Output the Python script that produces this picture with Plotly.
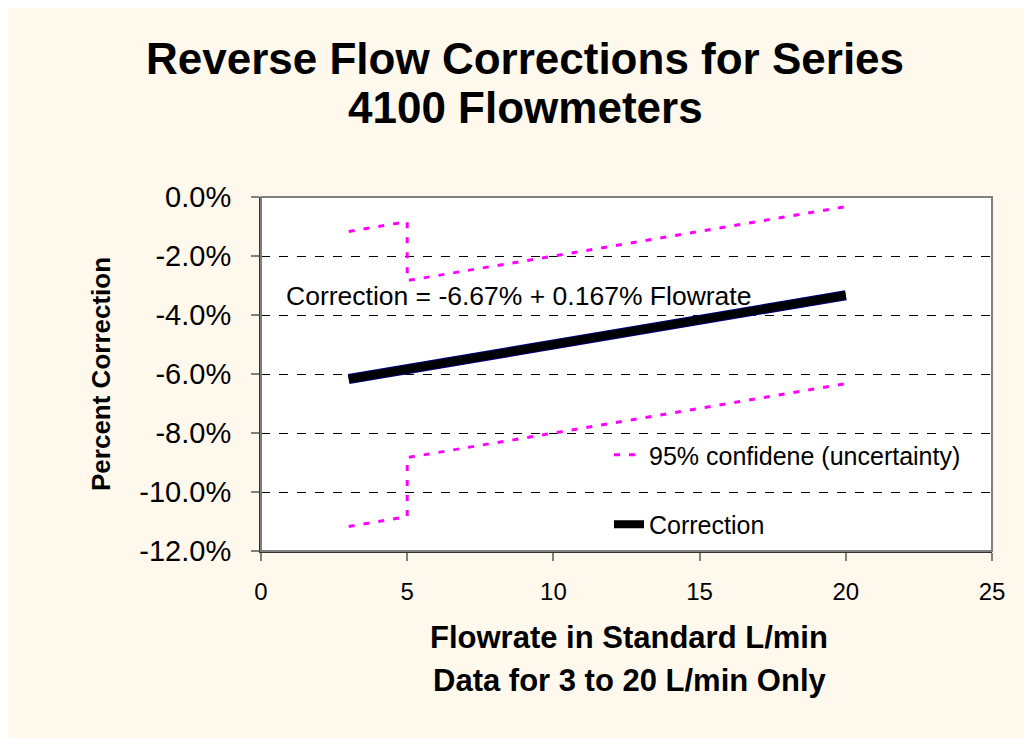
import plotly.graph_objects as go

# Data (fractions; shown as percent)
corr_x = [3, 5, 8, 10, 15, 20]
corr_y = [-0.0617, -0.05835, -0.05334, -0.0500, -0.04165, -0.0333]

upper_x = [3, 5, 5, 20]
upper_y = [-0.0117, -0.00835, -0.02835, -0.0033]

lower_x = [3, 5, 5, 20]
lower_y = [-0.1117, -0.10835, -0.08835, -0.0633]

y_tickvals = [0, -0.02, -0.04, -0.06, -0.08, -0.10, -0.12]
y_ticktext = ["0.0%", "-2.0%", "-4.0%", "-6.0%", "-8.0%", "-10.0%", "-12.0%"]
x_tickvals = [0, 5, 10, 15, 20, 25]
x_ticktext = ["0", "5", "10", "15", "20", "25"]

title_lines = ["Reverse Flow Corrections for Series", "4100 Flowmeters"]
xtitle_lines = ["Flowrate in Standard L/min", "Data for 3 to 20 L/min Only"]
ytitle = "Percent Correction"
eq_text = "Correction = -6.67% + 0.167% Flowrate"

FONT = "Liberation Sans, Arial, sans-serif"
CREAM = "#FFF9ED"
MAG = "#FF00FF"

fig = go.Figure()

fig.add_trace(go.Scatter(x=upper_x, y=upper_y, mode="lines",
                         line=dict(color=MAG, width=3, dash="6px,9px"),
                         name="95% confidene (uncertainty)", legendgroup="a"))
fig.add_trace(go.Scatter(x=lower_x, y=lower_y, mode="lines",
                         line=dict(color=MAG, width=3, dash="6px,9px"),
                         name="95% confidene (uncertainty)", legendgroup="a",
                         showlegend=False))
fig.add_trace(go.Scatter(x=corr_x, y=corr_y, mode="lines",
                         line=dict(color="#000080", width=10),
                         showlegend=False, hoverinfo="skip"))
fig.add_trace(go.Scatter(x=corr_x, y=corr_y, mode="lines",
                         line=dict(color="black", width=8),
                         name="Correction", legendgroup="b"))

# figure origin sits at page offset (8, 8)
OX, OY = 8, 8
FW, FH = 1032 - OX, 738 - OY
# plot area in reference px: x 261..992, y 197..551
L, R, T, B = 261, 992, 197, 551
W, H = R - L, B - T


def px_x(px):
    return (px - L) / W


def px_y(py):
    return (B - py) / H


annotations = [
    dict(text=f"<b>{title_lines[0]}</b>", x=px_x(525), y=px_y(59), xref="paper", yref="paper",
         showarrow=False, font=dict(size=44, family=FONT, color="black"), xanchor="center", yanchor="middle"),
    dict(text=f"<b>{title_lines[1]}</b>", x=px_x(525), y=px_y(107), xref="paper", yref="paper",
         showarrow=False, font=dict(size=44, family=FONT, color="black"), xanchor="center", yanchor="middle"),
    dict(text=f"<b>{xtitle_lines[0]}</b>", x=px_x(629), y=px_y(637), xref="paper", yref="paper",
         showarrow=False, font=dict(size=31, family=FONT, color="black"), xanchor="center", yanchor="middle"),
    dict(text=f"<b>{xtitle_lines[1]}</b>", x=px_x(629), y=px_y(680), xref="paper", yref="paper",
         showarrow=False, font=dict(size=31, family=FONT, color="black"), xanchor="center", yanchor="middle"),
    dict(text=f"<b>{ytitle}</b>", x=px_x(101), y=px_y(374), xref="paper", yref="paper",
         showarrow=False, textangle=-90, font=dict(size=26, family=FONT, color="black"),
         xanchor="center", yanchor="middle"),
    dict(text=eq_text, x=px_x(284), y=px_y(296), xref="paper", yref="paper",
         showarrow=False, font=dict(size=26.5, family=FONT, color="black"), xanchor="left", yanchor="middle"),
]

shapes = [
    # plot border (top/right gray)
    dict(type="rect", xref="paper", yref="paper", x0=0, x1=1, y0=0, y1=1,
         line=dict(color="#808080", width=2), layer="above"),
]

fig.update_layout(
    width=FW, height=FH,
    margin=dict(l=L - OX, r=FW - (R - OX), t=T - OY, b=FH - (B - OY)),
    paper_bgcolor=CREAM, plot_bgcolor="white",
    font=dict(family=FONT, size=24, color="black"),
    showlegend=True,
    legend=dict(x=px_x(609), y=px_y(432), xanchor="left", yanchor="top",
                bgcolor="rgba(0,0,0,0)", font=dict(size=25, family=FONT),
                tracegroupgap=34, traceorder="grouped"),
    annotations=annotations, shapes=shapes,
    xaxis=dict(range=[0, 25], tickvals=x_tickvals, ticktext=x_ticktext,
               showgrid=False, zeroline=False,
               showline=True, linecolor="#333333", linewidth=2,
               ticks="outside", ticklen=8, tickcolor="#808080", tickwidth=2,
               ticklabelstandoff=10,
               tickfont=dict(size=24), fixedrange=True),
    yaxis=dict(range=[-0.12, 0], tickvals=y_tickvals, ticktext=y_ticktext,
               showgrid=True, gridcolor="black", gridwidth=1, griddash="dash",
               zeroline=False, showline=True, linecolor="#333333", linewidth=2,
               ticks="outside", ticklen=8, tickcolor="#808080", tickwidth=2,
               ticklabelstandoff=14,
               tickfont=dict(size=29), fixedrange=True),
)

fig.write_html("out.html")
